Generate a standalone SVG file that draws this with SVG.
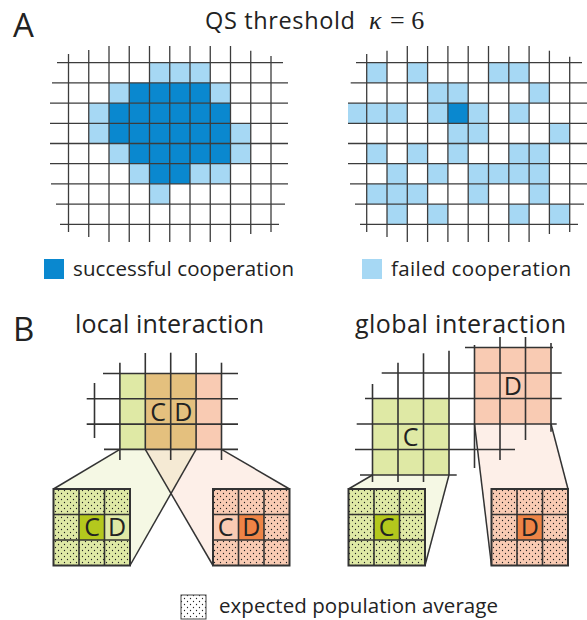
<svg xmlns="http://www.w3.org/2000/svg" width="587" height="620" viewBox="0 0 587 620">
<defs>
<style>
text{font-family:"Open Sans","Liberation Sans",sans-serif;fill:#222}
.lbl{font-size:33px}
.hd{font-size:25px}
.lg{font-size:20.5px}
.cd{font-size:25px;text-anchor:middle}
.math{font-family:"Liberation Serif",serif;font-size:26px}
.d{fill:#0a88cf}
.l{fill:#a6d8f4}
.ga line{stroke:#3c3c3c;stroke-width:1.3}
.gb line{stroke:#333;stroke-width:1.6}
.frame{fill:none;stroke:#333;stroke-width:2}
.edge{stroke:#333;stroke-width:1.5;fill:none}
.cg{fill:#dfe9a5}
.cp{fill:#f9cbb3}
.ct{fill:#e4c07e}
.cgd{fill:#b4c81d}
.cpd{fill:#ee8446}
.dots{fill:url(#dots)}
</style>
<pattern id="dots" width="6" height="6" patternUnits="userSpaceOnUse">
<circle cx="1.5" cy="1.5" r="0.65" fill="#222"/>
<circle cx="4.5" cy="4.5" r="0.65" fill="#222"/>
</pattern>
</defs>
<rect width="587" height="620" fill="#fff"/>

<!-- Panel A labels -->
<g id="labelA"><text class="lbl" x="13" y="37">A</text></g>
<g id="title">
<text x="205" y="29" font-size="23.5" textLength="150">QS threshold</text>
<text class="math" x="369" y="29" font-style="italic">κ</text>
<text class="math" x="390" y="29">= 6</text>
</g>

<!-- Left grid A -->
<g id="gridA-local" class="ga">
<rect class="l" x="149.5" y="62.7" width="60.75" height="20.2"/>
<rect class="l" x="109" y="82.9" width="20.25" height="20.2"/>
<rect class="d" x="129.25" y="82.9" width="81" height="20.2"/>
<rect class="l" x="210.25" y="82.9" width="20.25" height="20.2"/>
<rect class="l" x="88.75" y="103.1" width="20.25" height="20.2"/>
<rect class="d" x="109" y="103.1" width="121.5" height="20.2"/>
<rect class="l" x="88.75" y="123.3" width="20.25" height="20.2"/>
<rect class="d" x="109" y="123.3" width="121.5" height="20.2"/>
<rect class="l" x="230.5" y="123.3" width="20.25" height="20.2"/>
<rect class="l" x="109" y="143.5" width="20.25" height="20.2"/>
<rect class="d" x="129.25" y="143.5" width="101.25" height="20.2"/>
<rect class="l" x="230.5" y="143.5" width="20.25" height="20.2"/>
<rect class="l" x="129.25" y="163.7" width="20.25" height="20.2"/>
<rect class="d" x="149.5" y="163.7" width="40.5" height="20.2"/>
<rect class="l" x="190" y="163.7" width="40.5" height="20.2"/>
<rect class="l" x="149.5" y="183.9" width="20.25" height="20.2"/>
<line x1="68.5" y1="54" x2="68.5" y2="232"/>
<line x1="88.75" y1="50" x2="88.75" y2="237"/>
<line x1="109" y1="46" x2="109" y2="242"/>
<line x1="129.25" y1="46" x2="129.25" y2="242"/>
<line x1="149.5" y1="46" x2="149.5" y2="242"/>
<line x1="169.75" y1="46" x2="169.75" y2="242"/>
<line x1="190" y1="46" x2="190" y2="242"/>
<line x1="210.25" y1="46" x2="210.25" y2="242"/>
<line x1="230.5" y1="46" x2="230.5" y2="242"/>
<line x1="250.75" y1="50.7" x2="250.75" y2="234"/>
<line x1="271" y1="56" x2="271" y2="232"/>
<line x1="57" y1="62.7" x2="283" y2="62.7"/>
<line x1="52" y1="82.9" x2="288" y2="82.9"/>
<line x1="50" y1="103.1" x2="288" y2="103.1"/>
<line x1="50" y1="123.3" x2="288" y2="123.3"/>
<line x1="50" y1="143.5" x2="288" y2="143.5"/>
<line x1="50" y1="163.7" x2="288" y2="163.7"/>
<line x1="51" y1="183.9" x2="288" y2="183.9"/>
<line x1="56" y1="204.1" x2="285" y2="204.1"/>
<line x1="60" y1="224.3" x2="279" y2="224.3"/>
</g>

<!-- Right grid A -->
<g id="gridA-global" class="ga">
<rect class="l" x="366.7" y="62.7" width="20.3" height="20.2"/>
<rect class="l" x="407.3" y="62.7" width="20.3" height="20.2"/>
<rect class="l" x="488.5" y="62.7" width="40.6" height="20.2"/>
<rect class="l" x="427.6" y="82.9" width="40.6" height="20.2"/>
<rect class="l" x="529.1" y="82.9" width="20.3" height="20.2"/>
<rect class="l" x="348" y="103.1" width="59.3" height="20.2"/>
<rect class="l" x="427.6" y="103.1" width="20.3" height="20.2"/>
<rect class="d" x="447.9" y="103.1" width="20.3" height="20.2"/>
<rect class="l" x="468.2" y="103.1" width="20.3" height="20.2"/>
<rect class="l" x="508.8" y="103.1" width="20.3" height="20.2"/>
<rect class="l" x="447.9" y="123.3" width="40.6" height="20.2"/>
<rect class="l" x="549.4" y="123.3" width="20.3" height="20.2"/>
<rect class="l" x="366.7" y="143.5" width="20.3" height="20.2"/>
<rect class="l" x="407.3" y="143.5" width="20.3" height="20.2"/>
<rect class="l" x="447.9" y="143.5" width="20.3" height="20.2"/>
<rect class="l" x="508.8" y="143.5" width="40.6" height="20.2"/>
<rect class="l" x="387" y="163.7" width="20.3" height="20.2"/>
<rect class="l" x="427.6" y="163.7" width="20.3" height="20.2"/>
<rect class="l" x="468.2" y="163.7" width="81.2" height="20.2"/>
<rect class="l" x="366.7" y="183.9" width="60.9" height="20.2"/>
<rect class="l" x="468.2" y="183.9" width="20.3" height="20.2"/>
<rect class="l" x="529.1" y="183.9" width="20.3" height="20.2"/>
<rect class="l" x="387" y="204.1" width="20.3" height="20.2"/>
<rect class="l" x="427.6" y="204.1" width="20.3" height="20.2"/>
<rect class="l" x="508.8" y="204.1" width="20.3" height="20.2"/>
<rect class="l" x="549.4" y="204.1" width="20.3" height="20.2"/>
<line x1="366.7" y1="54" x2="366.7" y2="232"/>
<line x1="387" y1="50.7" x2="387" y2="237"/>
<line x1="407.3" y1="46" x2="407.3" y2="242"/>
<line x1="427.6" y1="46" x2="427.6" y2="242"/>
<line x1="447.9" y1="46" x2="447.9" y2="242"/>
<line x1="468.2" y1="46" x2="468.2" y2="242"/>
<line x1="488.5" y1="46" x2="488.5" y2="242"/>
<line x1="508.8" y1="46" x2="508.8" y2="242"/>
<line x1="529.1" y1="46" x2="529.1" y2="242"/>
<line x1="549.4" y1="50.7" x2="549.4" y2="234"/>
<line x1="569.7" y1="56.7" x2="569.7" y2="232"/>
<line x1="356" y1="62.7" x2="582" y2="62.7"/>
<line x1="350.7" y1="82.9" x2="587" y2="82.9"/>
<line x1="348" y1="103.1" x2="587" y2="103.1"/>
<line x1="348" y1="123.3" x2="587" y2="123.3"/>
<line x1="348" y1="143.5" x2="587" y2="143.5"/>
<line x1="348" y1="163.7" x2="587" y2="163.7"/>
<line x1="350" y1="183.9" x2="587" y2="183.9"/>
<line x1="355" y1="204.1" x2="584" y2="204.1"/>
<line x1="360" y1="224.3" x2="578" y2="224.3"/>
</g>

<!-- Legend A -->
<g id="legend-success">
<rect class="d" x="44" y="259" width="20" height="20"/>
<text class="lg" x="73" y="276" textLength="221">successful cooperation</text>
</g>
<g id="legend-failed">
<rect class="l" x="362" y="259" width="20" height="20"/>
<text class="lg" x="391" y="276" textLength="180">failed cooperation</text>
</g>

<!-- Panel B labels -->
<g id="labelB"><text class="lbl" x="13" y="341">B</text></g>
<g id="title-local"><text class="hd" x="75" y="333" textLength="189">local interaction</text></g>
<g id="title-global"><text class="hd" x="355" y="333" textLength="211">global interaction</text></g>

<!-- Connectors: projection trapezoids -->
<g id="connectors">
<polygon points="119.9,449.4 196.1,449.4 130,565.5 53.5,489" fill="#dfe9a5" fill-opacity="0.3"/>
<polygon points="145.3,449.4 221.5,449.4 289.5,489 213,565.5" fill="#f7c0a5" fill-opacity="0.25"/>
<polygon points="372.5,475 449,475 425,565.5 348.5,489" fill="#dfe9a5" fill-opacity="0.3"/>
<polygon points="474.5,424 551,424 568,489 491.5,565.5" fill="#f7c0a5" fill-opacity="0.25"/>
<line class="edge" x1="119.9" y1="449.4" x2="53.5" y2="489"/>
<line class="edge" x1="196.1" y1="449.4" x2="130" y2="565.5"/>
<line class="edge" x1="145.3" y1="449.4" x2="213" y2="565.5"/>
<line class="edge" x1="221.5" y1="449.4" x2="289.5" y2="489"/>
<line class="edge" x1="372.5" y1="475" x2="348.5" y2="489"/>
<line class="edge" x1="449" y1="475" x2="425" y2="565.5"/>
<line class="edge" x1="474.5" y1="424" x2="491.5" y2="565.5"/>
<line class="edge" x1="551" y1="424" x2="568" y2="489"/>
</g>

<!-- Local interaction grid -->
<g id="gridB-local" class="gb">
<rect class="cg" x="119.9" y="373.5" width="25.4" height="75.9"/>
<rect class="ct" x="145.3" y="373.5" width="50.8" height="75.9"/>
<rect class="cp" x="196.1" y="373.5" width="25.4" height="75.9"/>
<line x1="94.5" y1="383" x2="94.5" y2="438"/>
<line x1="119.9" y1="362.7" x2="119.9" y2="460"/>
<line x1="145.3" y1="353" x2="145.3" y2="449.4"/>
<line x1="170.7" y1="352.7" x2="170.7" y2="460"/>
<line x1="196.1" y1="353" x2="196.1" y2="449.4"/>
<line x1="221.5" y1="362.7" x2="221.5" y2="460"/>
<line x1="103" y1="373.5" x2="238" y2="373.5"/>
<line x1="86.7" y1="398.8" x2="238" y2="398.8"/>
<line x1="86.7" y1="424.1" x2="238" y2="424.1"/>
<line x1="104" y1="449.4" x2="238" y2="449.4"/>
<text class="cd" x="158" y="420.5">C</text>
<text class="cd" x="183.4" y="420.5">D</text>
</g>

<!-- Global interaction grid -->
<g id="gridB-global" class="gb">
<rect class="cg" x="372.5" y="398.5" width="76.5" height="76.5"/>
<rect class="cp" x="474.5" y="347.5" width="76.5" height="76.5"/>
<line x1="372.5" y1="384" x2="372.5" y2="482"/>
<line x1="398" y1="362.7" x2="398" y2="482"/>
<line x1="423.5" y1="353.3" x2="423.5" y2="482"/>
<line x1="449" y1="350.7" x2="449" y2="475"/>
<line x1="474.5" y1="345" x2="474.5" y2="468"/>
<line x1="500" y1="337" x2="500" y2="460"/>
<line x1="525.5" y1="337" x2="525.5" y2="440"/>
<line x1="551" y1="343" x2="551" y2="431.7"/>
<line x1="465" y1="347.5" x2="553" y2="347.5"/>
<line x1="381.7" y1="373" x2="561.7" y2="373"/>
<line x1="365" y1="398.5" x2="561.7" y2="398.5"/>
<line x1="356.7" y1="424" x2="556.7" y2="424"/>
<line x1="355" y1="449.5" x2="515" y2="449.5"/>
<line x1="360" y1="475" x2="456.7" y2="475"/>
<text class="cd" x="410.7" y="445.5">C</text>
<text class="cd" x="512.7" y="394.5">D</text>
</g>

<!-- Magnified neighbourhood boxes -->
<g id="box-local-C" class="gb">
<rect class="cg" x="53.5" y="489" width="76.5" height="76.5"/>
<rect class="dots" x="53.5" y="489" width="76.5" height="76.5"/>
<rect class="cgd" x="79" y="514.5" width="25.5" height="25.5"/>
<rect class="cg" x="104.5" y="514.5" width="25.5" height="25.5"/>
<line x1="79" y1="489" x2="79" y2="565.5"/>
<line x1="104.5" y1="489" x2="104.5" y2="565.5"/>
<line x1="53.5" y1="514.5" x2="130" y2="514.5"/>
<line x1="53.5" y1="540" x2="130" y2="540"/>
<rect class="frame" x="53.5" y="489" width="76.5" height="76.5"/>
<text class="cd" x="92" y="536">C</text>
<text class="cd" x="117" y="536">D</text>
</g>
<g id="box-local-D" class="gb">
<rect class="cp" x="213" y="489" width="76.5" height="76.5"/>
<rect class="dots" x="213" y="489" width="76.5" height="76.5"/>
<rect class="cp" x="213" y="514.5" width="25.5" height="25.5"/>
<rect class="cpd" x="238.5" y="514.5" width="25.5" height="25.5"/>
<line x1="238.5" y1="489" x2="238.5" y2="565.5"/>
<line x1="264" y1="489" x2="264" y2="565.5"/>
<line x1="213" y1="514.5" x2="289.5" y2="514.5"/>
<line x1="213" y1="540" x2="289.5" y2="540"/>
<rect class="frame" x="213" y="489" width="76.5" height="76.5"/>
<text class="cd" x="225.7" y="536">C</text>
<text class="cd" x="251.2" y="536">D</text>
</g>
<g id="box-global-C" class="gb">
<rect class="cg" x="348.5" y="489" width="76.5" height="76.5"/>
<rect class="dots" x="348.5" y="489" width="76.5" height="76.5"/>
<rect class="cgd" x="374" y="514.5" width="25.5" height="25.5"/>
<line x1="374" y1="489" x2="374" y2="565.5"/>
<line x1="399.5" y1="489" x2="399.5" y2="565.5"/>
<line x1="348.5" y1="514.5" x2="425" y2="514.5"/>
<line x1="348.5" y1="540" x2="425" y2="540"/>
<rect class="frame" x="348.5" y="489" width="76.5" height="76.5"/>
<text class="cd" x="386.7" y="536">C</text>
</g>
<g id="box-global-D" class="gb">
<rect class="cp" x="491.5" y="489" width="76.5" height="76.5"/>
<rect class="dots" x="491.5" y="489" width="76.5" height="76.5"/>
<rect class="cpd" x="517" y="514.5" width="25.5" height="25.5"/>
<line x1="517" y1="489" x2="517" y2="565.5"/>
<line x1="542.5" y1="489" x2="542.5" y2="565.5"/>
<line x1="491.5" y1="514.5" x2="568" y2="514.5"/>
<line x1="491.5" y1="540" x2="568" y2="540"/>
<rect class="frame" x="491.5" y="489" width="76.5" height="76.5"/>
<text class="cd" x="529.7" y="536">D</text>
</g>

<!-- Bottom legend -->
<g id="legend-average">
<rect x="181" y="595" width="25" height="24" fill="#fff"/>
<rect class="dots" x="181" y="595" width="25" height="24"/>
<rect x="181" y="595" width="25" height="24" fill="none" stroke="#444" stroke-width="1"/>
<text class="lg" x="219" y="613" textLength="279">expected population average</text>
</g>
</svg>
